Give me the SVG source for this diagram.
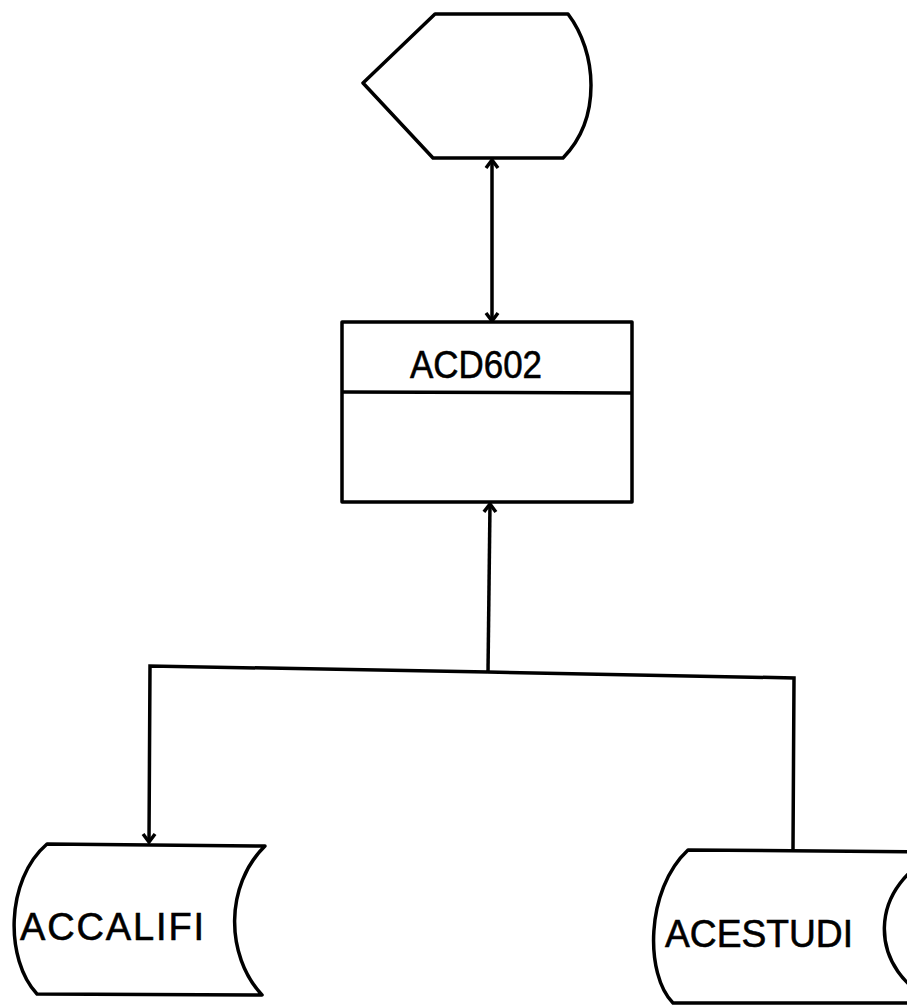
<svg xmlns="http://www.w3.org/2000/svg" width="907" height="1006" viewBox="0 0 907 1006">
<defs>
<style>
.shape{fill:#fff;stroke:#000;stroke-width:3.5;stroke-linejoin:round}
.conn{fill:none;stroke:#000;stroke-width:3.5;stroke-linejoin:miter}
.lbl{font-family:"Liberation Sans",Arial,sans-serif;font-size:38px;fill:#000;stroke:#000;stroke-width:0.6}
</style>
<marker id="arr" viewBox="-11 -8 13 16" markerWidth="13" markerHeight="16" refX="0" refY="0" orient="auto-start-reverse" markerUnits="userSpaceOnUse">
<path d="M-8,-6 L0,0 L-8,6" fill="none" stroke="#000" stroke-width="3.5"/>
</marker>
</defs>
<rect width="907" height="1006" fill="#fff"/>
<g id="connectors">
<line class="conn" x1="492" y1="160" x2="492" y2="321" marker-start="url(#arr)" marker-end="url(#arr)"/>
<line class="conn" x1="488" y1="672" x2="490" y2="504" marker-end="url(#arr)"/>
<polyline class="conn" points="488,672 150,666 149,842" marker-end="url(#arr)"/>
<polyline class="conn" points="488,672 794,678 793,850"/>
</g>
<g id="display">
<path class="shape" d="M435,14 L568,14 C597,52 602,118 563,158 L433,158 L363,83 Z"/>
</g>
<g id="ACD602">
<rect class="shape" x="342" y="322" width="290" height="180"/>
<line class="conn" x1="342" y1="392" x2="632" y2="393"/>
<text class="lbl" x="410" y="378" textLength="132" lengthAdjust="spacingAndGlyphs">ACD602</text>
</g>
<g id="ACCALIFI">
<path class="shape" d="M47,844 L265,846 C225,885 225,955 262,995 L37,994 C5,960 5,880 47,844 Z"/>
<text class="lbl" x="20" y="940" textLength="184" lengthAdjust="spacing">ACCALIFI</text>
</g>
<g id="ACESTUDI">
<path class="shape" d="M688,850 L945,852 C865,880 865,975 940,1003 L673,1003 C645,975 645,890 688,850 Z"/>
<text class="lbl" x="665" y="947" textLength="188" lengthAdjust="spacingAndGlyphs">ACESTUDI</text>
</g>
</svg>
